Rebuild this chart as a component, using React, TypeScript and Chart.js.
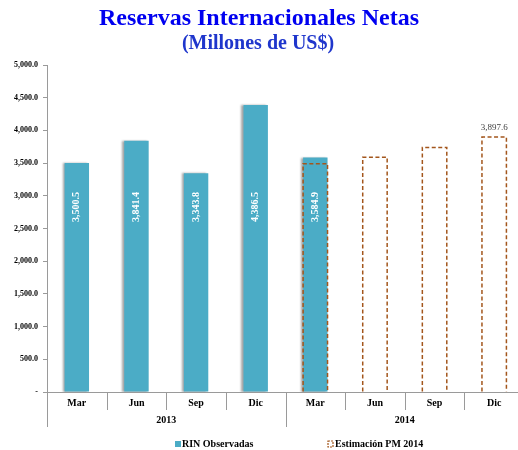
import React, { useEffect, useRef } from "react";
import { Chart, registerables } from "chart.js";

Chart.register(...registerables);

const months = ["Mar", "Jun", "Sep", "Dic", "Mar", "Jun", "Sep", "Dic"];
const years = ["2013", "2014"];
const observed = [3500.5, 3841.4, 3343.8, 4386.5, 3584.9, null, null, null];
const estimated = [null, null, null, null, 3490, 3590, 3740, 3897.6];
const yTicksMax = 5000;
const yTicksStep = 500;
const labelValue = 2830;

const TITLE = "Reservas Internacionales Netas";
const SUBTITLE = "(Millones de US$)";
const LEGEND_OBS = "RIN Observadas";
const LEGEND_EST = "Estimación PM 2014";

const TEAL = "#4BACC6";
const BROWN = "#A3561C";
const AXIS = "#9a9a9a";
const SERIF = "'Liberation Serif', 'Times New Roman', serif";

const fmt = (v: number) =>
  v.toLocaleString("en-US", { minimumFractionDigits: 1, maximumFractionDigits: 1 });

const customPlugin = {
  id: "custom",
  beforeDatasetDraw(chart: any, args: any) {
    if (args.index === 0) {
      const ctx = chart.ctx;
      ctx.save();
      ctx.shadowColor = "rgba(0,0,0,0.35)";
      ctx.shadowOffsetX = -2;
      ctx.shadowOffsetY = 0;
      ctx.shadowBlur = 2;
    }
  },
  afterDatasetDraw(chart: any, args: any) {
    if (args.index === 0) chart.ctx.restore();
  },
  afterDraw(chart: any) {
    const ctx = chart.ctx;
    const x = chart.scales.x;
    const y = chart.scales.y;
    const area = chart.chartArea;

    // titles
    ctx.save();
    ctx.textAlign = "center";
    ctx.textBaseline = "middle";
    ctx.fillStyle = "#0000F0";
    ctx.font = `bold 24px ${SERIF}`;
    ctx.fillText(TITLE, 259, 19);
    ctx.fillStyle = "#1F36CC";
    ctx.font = `bold 20px ${SERIF}`;
    ctx.fillText(SUBTITLE, 258, 44);
    ctx.restore();

    // estimated dashed bars
    const meta1 = chart.getDatasetMeta(1);
    ctx.save();
    ctx.strokeStyle = BROWN;
    ctx.lineWidth = 1.5;
    ctx.setLineDash([4, 2.5]);
    meta1.data.forEach((el: any, i: number) => {
      if (estimated[i] == null) return;
      const { x: cx, y: top, base, width } = el.getProps(["x", "y", "base", "width"], true);
      const l = cx - width / 2;
      const r = cx + width / 2;
      ctx.beginPath();
      ctx.moveTo(l, base);
      ctx.lineTo(l, top);
      ctx.lineTo(r, top);
      ctx.lineTo(r, base);
      ctx.stroke();
    });
    ctx.restore();

    // labels inside observed bars
    const meta0 = chart.getDatasetMeta(0);
    ctx.save();
    ctx.fillStyle = "#ffffff";
    ctx.font = `bold 10px ${SERIF}`;
    ctx.textAlign = "center";
    ctx.textBaseline = "middle";
    meta0.data.forEach((el: any, i: number) => {
      const v = observed[i];
      if (v == null) return;
      ctx.save();
      ctx.translate(el.x, y.getPixelForValue(labelValue));
      ctx.rotate(-Math.PI / 2);
      ctx.fillText(fmt(v), 0, 0);
      ctx.restore();
    });
    ctx.restore();

    // last estimated value label
    const lastIdx = estimated.length - 1;
    const lastEl = meta1.data[lastIdx];
    if (lastEl && estimated[lastIdx] != null) {
      ctx.save();
      ctx.fillStyle = "#404040";
      ctx.font = `9px ${SERIF}`;
      ctx.textAlign = "center";
      ctx.textBaseline = "middle";
      ctx.fillText(fmt(estimated[lastIdx] as number), lastEl.x, lastEl.y - 9);
      ctx.restore();
    }

    // category separators
    ctx.save();
    ctx.strokeStyle = AXIS;
    ctx.lineWidth = 1;
    const n = months.length;
    const step = (x.right - x.left) / n;
    const perYear = n / years.length;
    for (let i = 0; i <= n; i++) {
      const px = Math.round(x.left + i * step) + 0.5;
      const long = i % perYear === 0;
      ctx.beginPath();
      ctx.moveTo(px, area.bottom);
      ctx.lineTo(px, long ? area.bottom + 35 : area.bottom + 18);
      ctx.stroke();
    }
    ctx.restore();

    // legend
    ctx.save();
    ctx.font = `bold 10px ${SERIF}`;
    ctx.textBaseline = "middle";
    ctx.textAlign = "left";
    const ly = 444;
    ctx.fillStyle = TEAL;
    ctx.fillRect(175, ly - 3, 6, 6);
    ctx.fillStyle = "#000";
    ctx.fillText(LEGEND_OBS, 182, ly);
    ctx.strokeStyle = BROWN;
    ctx.lineWidth = 1.2;
    ctx.setLineDash([2, 1]);
    ctx.strokeRect(328, ly - 3, 5, 6);
    ctx.setLineDash([]);
    ctx.fillStyle = "#000";
    ctx.fillText(LEGEND_EST, 335, ly);
    ctx.restore();
  },
};

export default function App() {
  const ref = useRef<HTMLCanvasElement>(null);
  useEffect(() => {
    if (!ref.current) return;
    const chart = new Chart(ref.current, {
      type: "bar",
      data: {
        labels: months,
        datasets: [
          {
            label: LEGEND_OBS,
            data: observed as any,
            backgroundColor: TEAL,
            borderWidth: 0,
            grouped: false,
            categoryPercentage: 1,
            barPercentage: 0.41,
          } as any,
          {
            label: LEGEND_EST,
            data: estimated as any,
            backgroundColor: "rgba(0,0,0,0)",
            borderWidth: 0,
            grouped: false,
            categoryPercentage: 1,
            barPercentage: 0.41,
          } as any,
        ],
      },
      options: {
        responsive: false,
        animation: false,
        layout: { padding: { top: 65, right: 6, bottom: 23, left: 0 } },
        plugins: {
          legend: { display: false },
          title: { display: false },
          tooltip: { enabled: false },
        },
        scales: {
          y: {
            min: 0,
            max: yTicksMax,
            afterFit: (s: any) => {
              s.width = 47;
            },
            ticks: {
              stepSize: yTicksStep,
              padding: 5,
              color: "#000",
              font: { family: SERIF, size: 8, weight: "bold" },
              callback: (v: any) => (Number(v) === 0 ? "-" : fmt(Number(v))),
            },
            grid: { drawOnChartArea: false, tickLength: 4, color: AXIS },
            border: { display: true, color: AXIS },
          },
          x: {
            position: "bottom",
            afterFit: (s: any) => {
              s.height = 18;
            },
            ticks: {
              padding: 5,
              color: "#000",
              font: { family: SERIF, size: 10, weight: "bold" },
              maxRotation: 0,
            },
            grid: { display: false, drawTicks: false, tickLength: 0 },
            border: { display: true, color: AXIS },
          },
          x2: {
            type: "category",
            position: "bottom",
            labels: years,
            afterFit: (s: any) => {
              s.height = 17;
            },
            ticks: {
              padding: 4,
              color: "#000",
              font: { family: SERIF, size: 10, weight: "bold" },
              maxRotation: 0,
            },
            grid: { display: false, drawTicks: false, tickLength: 0 },
            border: { display: false },
          } as any,
        },
      } as any,
      plugins: [customPlugin],
    });
    return () => chart.destroy();
  }, []);
  return (
    <div
      style={{
        position: "fixed",
        left: 0,
        top: 0,
        width: 518,
        height: 450,
        overflow: "hidden",
        background: "#fff",
      }}
    >
      <canvas ref={ref} width={530} height={450} style={{ display: "block" }} />
    </div>
  );
}
